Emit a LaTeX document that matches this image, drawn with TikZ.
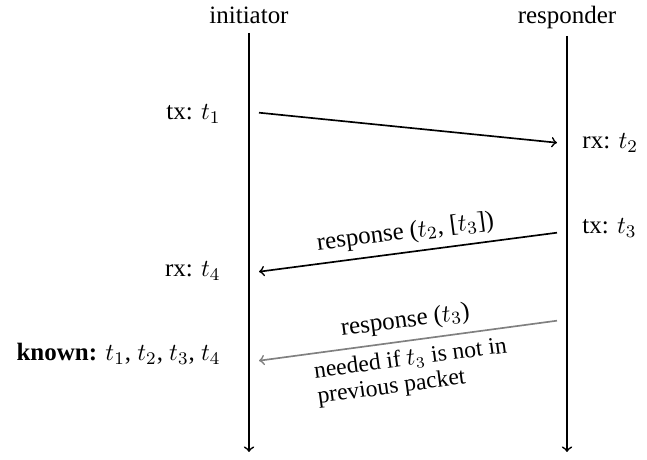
\documentclass[tikz,border=0pt]{standalone}
\usepackage{fontspec}
\setmainfont{Liberation Serif}
\begin{document}
\begin{tikzpicture}[x=0.4484pt,y=-0.4484pt,
  every node/.style={font=\fontsize{11.2}{13.5}\selectfont},
  lbl/.style={inner sep=0pt},
  life/.style={->,line width=0.75pt},
  msg/.style={->,line width=0.75pt},
  lbls/.style={sloped,midway},
  note/.style={font=\fontsize{10.6}{11.4}\selectfont,align=left}]
\useasboundingbox (0,0) rectangle (647,460);
% headers
\node[lbl,anchor=base] (ini) at (249,23.5) {initiator};
\node[lbl,anchor=base] (res) at (567,23.5) {responder};
% lifelines
\coordinate (iniTop) at (249,33);
\coordinate (iniBot) at (249,452);
\coordinate (resTop) at (567,36);
\coordinate (resBot) at (567,452);
\draw[life] (iniTop) -- (iniBot);
\draw[life] (resTop) -- (resBot);
% labels
\node[lbl,anchor=base east] (tx1) at (221,120) {tx: $t_1$};
\node[lbl,anchor=base west] (rx2) at (582,149) {rx: $t_2$};
\node[lbl,anchor=base west] (tx3) at (582,234) {tx: $t_3$};
\node[lbl,anchor=base east] (rx4) at (221,277) {rx: $t_4$};
\node[lbl,anchor=base east] (kn) at (221,361) {\textbf{known:} $t_1$, $t_2$, $t_3$, $t_4$};
% message end points
\coordinate (m1s) at (259,112.7);
\coordinate (m1e) at (557,142.7);
\coordinate (m2s) at (557,232.7);
\coordinate (m2e) at (259,271.7);
\coordinate (m3s) at (557,320.7);
\coordinate (m3e) at (259,360.7);
\draw[msg] (m1s) -- (m1e);
\draw[msg] (m2s) -- node[lbls,above] {response ($t_2$, [$t_3$])} (m2e);
\draw[msg,gray] (m3s) -- node[lbls,above,text=black] {response ($t_3$)}
  node[lbls,below,text=black,note] {needed if $t_3$ is not in\\previous packet} (m3e);
\end{tikzpicture}
\end{document}
